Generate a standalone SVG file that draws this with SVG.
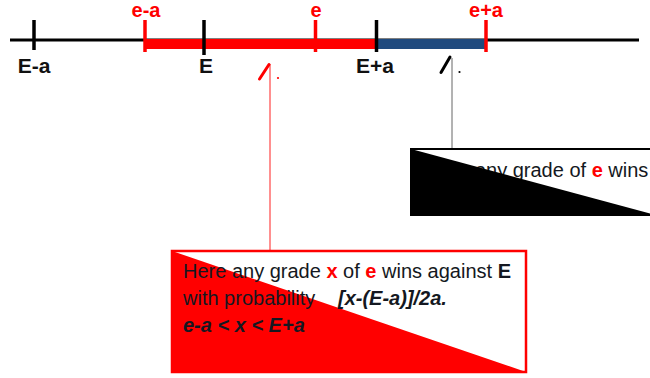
<svg xmlns="http://www.w3.org/2000/svg" width="650" height="378" viewBox="0 0 650 378">
<style>
.lbl{font-family:"Liberation Sans",Arial,sans-serif;font-weight:bold;font-size:21px;text-anchor:middle}
.top{font-size:20px}
.red{fill:#ff0000}
.blk{fill:#111111}
.tick{stroke-width:3.5;fill:none}
.txt{font-family:"Liberation Sans",Arial,sans-serif;font-size:20px;fill:#141821}
.b{font-weight:bold}
.bi{font-weight:bold;font-style:italic}
</style>
<rect width="650" height="378" fill="#ffffff"/>
<g id="axis">
<line x1="10" y1="40" x2="639" y2="40" stroke="#000" stroke-width="3"/>
<rect x="145" y="39" width="230" height="10" fill="#ff0000"/>
<rect x="376" y="39" width="110" height="10" fill="#1f4a7e"/>
<line class="tick" x1="34" y1="20" x2="34" y2="50" stroke="#000"/>
<line class="tick" x1="204" y1="20" x2="204" y2="55" stroke="#000"/>
<line class="tick" x1="376.5" y1="20" x2="376.5" y2="52" stroke="#000"/>
<line class="tick" x1="145" y1="20" x2="145" y2="52" stroke="#ff0000"/>
<line class="tick" x1="315.5" y1="20" x2="315.5" y2="52" stroke="#ff0000"/>
<line class="tick" x1="486" y1="20" x2="486" y2="52" stroke="#ff0000"/>
</g>
<g id="labels">
<text class="lbl blk" x="34" y="73">E-a</text>
<text class="lbl blk" x="206" y="73">E</text>
<text class="lbl blk" x="375" y="73">E+a</text>
<text class="lbl top red" x="146" y="17">e-a</text>
<text class="lbl top red" x="316" y="17">e</text>
<text class="lbl top red" x="486" y="17">e+a</text>
</g>
<g id="connectors">
<line x1="270" y1="64" x2="270" y2="251" stroke="#ff2020" stroke-width="1"/>
<path d="M259.5,79 L269,64.5" stroke="#ff0000" stroke-width="3" stroke-linecap="round"/>
<circle cx="278" cy="78" r="1.1" fill="#ff0000"/>
<line x1="452" y1="58" x2="452" y2="149" stroke="#666" stroke-width="1"/>
<path d="M441,72.5 L450,57" stroke="#000" stroke-width="3" stroke-linecap="round"/>
<circle cx="459.5" cy="72" r="1.1" fill="#000"/>
</g>
<g id="box-upper">
<rect x="411" y="149" width="245" height="66" fill="#ffffff" stroke="#000" stroke-width="2"/>
<text class="txt" x="426" y="177">Here any grade of <tspan class="b red">e</tspan> wins</text>
<polygon points="411,149 656,215 411,215" fill="#000"/>
</g>
<g id="box-lower">
<rect x="172" y="251" width="354" height="121" fill="#ffffff" stroke="#ff0000" stroke-width="2.5"/>
<polygon points="172,251 526,372 172,372" fill="#ff0000"/>
<text class="txt" x="183" y="278">Here any grade <tspan class="b red">x</tspan> of <tspan class="b red">e</tspan> wins against <tspan class="b">E</tspan></text>
<text class="txt" x="183" y="305">with probability  <tspan class="bi" x="338">[x-(E-a)]/2a.</tspan></text>
<text class="txt bi" x="183" y="332">e-a &lt; x &lt; E+a</text>
</g>
</svg>
